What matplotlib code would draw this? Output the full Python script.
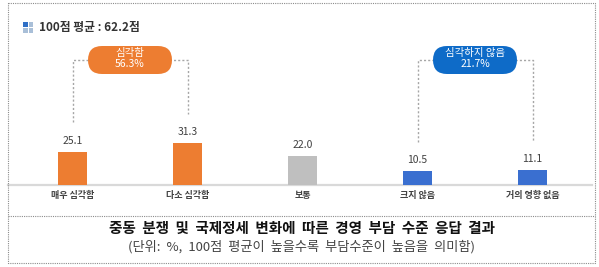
import matplotlib
matplotlib.use('Agg')
import matplotlib.pyplot as plt
from matplotlib.patches import FancyBboxPatch, Rectangle
from matplotlib.lines import Line2D

plt.rcParams['font.family'] = ['Noto Sans CJK KR', 'DejaVu Sans']

# data
categories = ['매우 심각함', '다소 심각함', '보통', '크지 않음', '거의 영향 없음']
values = [25.1, 31.3, 22.0, 10.5, 11.1]
colors = ['#ED7D31', '#ED7D31', '#BFBFBF', '#3A6FD0', '#3A6FD0']

groups = [(0, 1, '심각함', '56.3%', '#ED7D31'),
          (3, 4, '심각하지 않음', '21.7%', '#0E6BC8')]

title = '100점 평균 : 62.2점'
caption = '중동 분쟁 및 국제정세 변화에 따른 경영 부담 수준 응답 결과'
subcaption = '(단위: %, 100점 평균이 높을수록 부담수준이 높음을 의미함)'

W, H = 599, 267
fig = plt.figure(figsize=(W / 100, H / 100), dpi=100)

# bar area: 115 px per category, 1.333 px per unit
px_x = 115.0
px_y = 1.333
ax_left, ax_bottom = 15, H - 185
ax_w, ax_h = 575, 145
ax = fig.add_axes([ax_left / W, ax_bottom / H, ax_w / W, ax_h / H])
ax.set_xlim(-0.5, 4.5)
ax.set_ylim(0, ax_h / px_y)
ax.axis('off')

x = list(range(len(categories)))
ax.bar(x, values, width=29 / px_x, color=colors, zorder=3)
ax.axhline(0, color='#D9D9D9', lw=1.6, zorder=2, xmin=-0.012, xmax=1.004, clip_on=False)

for xi, v, lab in zip(x, values, categories):
    ax.text(xi, v + 4.5, f'{v:.1f}', ha='center', va='bottom', fontsize=7.5,
            color='#404040')
    ax.text(xi, -4.5, lab, ha='center', va='top', fontsize=6.5,
            color='#404040', fontweight='bold')

# brackets and pill labels
top_y = (185 - 60) / px_y
for i0, i1, lab, pct, col in groups:
    ax.plot([i0, i0, i1, i1], [values[i0] + 22, top_y, top_y, values[i1] + 22],
            color='#A6A6A6', lw=1, ls=(0, (1.5, 1.5)), zorder=1, clip_on=False)
    cx = (i0 + i1) / 2
    pw, ph = 84 / px_x, 28 / px_y
    pill = FancyBboxPatch((cx - pw / 2, top_y - ph / 2), pw, ph,
                          boxstyle=f'round,pad=0,rounding_size={14 / px_x}',
                          mutation_aspect=px_x / px_y,
                          fc=col, ec='none', zorder=4, clip_on=False)
    ax.add_patch(pill)
    ax.text(cx, top_y + 1, lab + '\n' + pct, ha='center', va='center',
            fontsize=7.5, color='white', linespacing=1.1, zorder=5)

# header with small icon
for dx, dy, c in [(0, 0, '#2F6FC6'), (5.5, 0, '#A9BFD8'),
                  (0, 5.5, '#A9BFD8'), (5.5, 5.5, '#A9BFD8')]:
    fig.patches.append(Rectangle(((23 + dx) / W, (H - 27 - dy) / H), 4.5 / W, 4.5 / H,
                                 transform=fig.transFigure, fc=c, ec='none'))
fig.text(39 / W, 1 - 27 / H, title, ha='left', va='center', fontsize=8.5,
         fontweight='bold', color='#333333')

# frame and caption
dot = dict(color='#8C8C8C', lw=0.8, ls=(0, (1, 1)), transform=fig.transFigure)
fig.add_artist(Line2D([8 / W, 595 / W, 595 / W, 8 / W, 8 / W],
                      [1 - 3 / H, 1 - 3 / H, 1 - 263 / H, 1 - 263 / H, 1 - 3 / H], **dot))
fig.add_artist(Line2D([8 / W, 595 / W], [1 - 216 / H, 1 - 216 / H], **dot))

# the source uses wide word gaps, so widen the spaces
fig.text(302 / W, 1 - 228 / H, caption.replace(' ', '  '), ha='center', va='center',
         fontsize=10.5, fontweight='bold', color='#111111')
fig.text(301 / W, 1 - 247 / H, subcaption.replace(' ', '  '), ha='center', va='center',
         fontsize=9.5, color='#444444')

fig.savefig('out.png', dpi=100, facecolor='white')
